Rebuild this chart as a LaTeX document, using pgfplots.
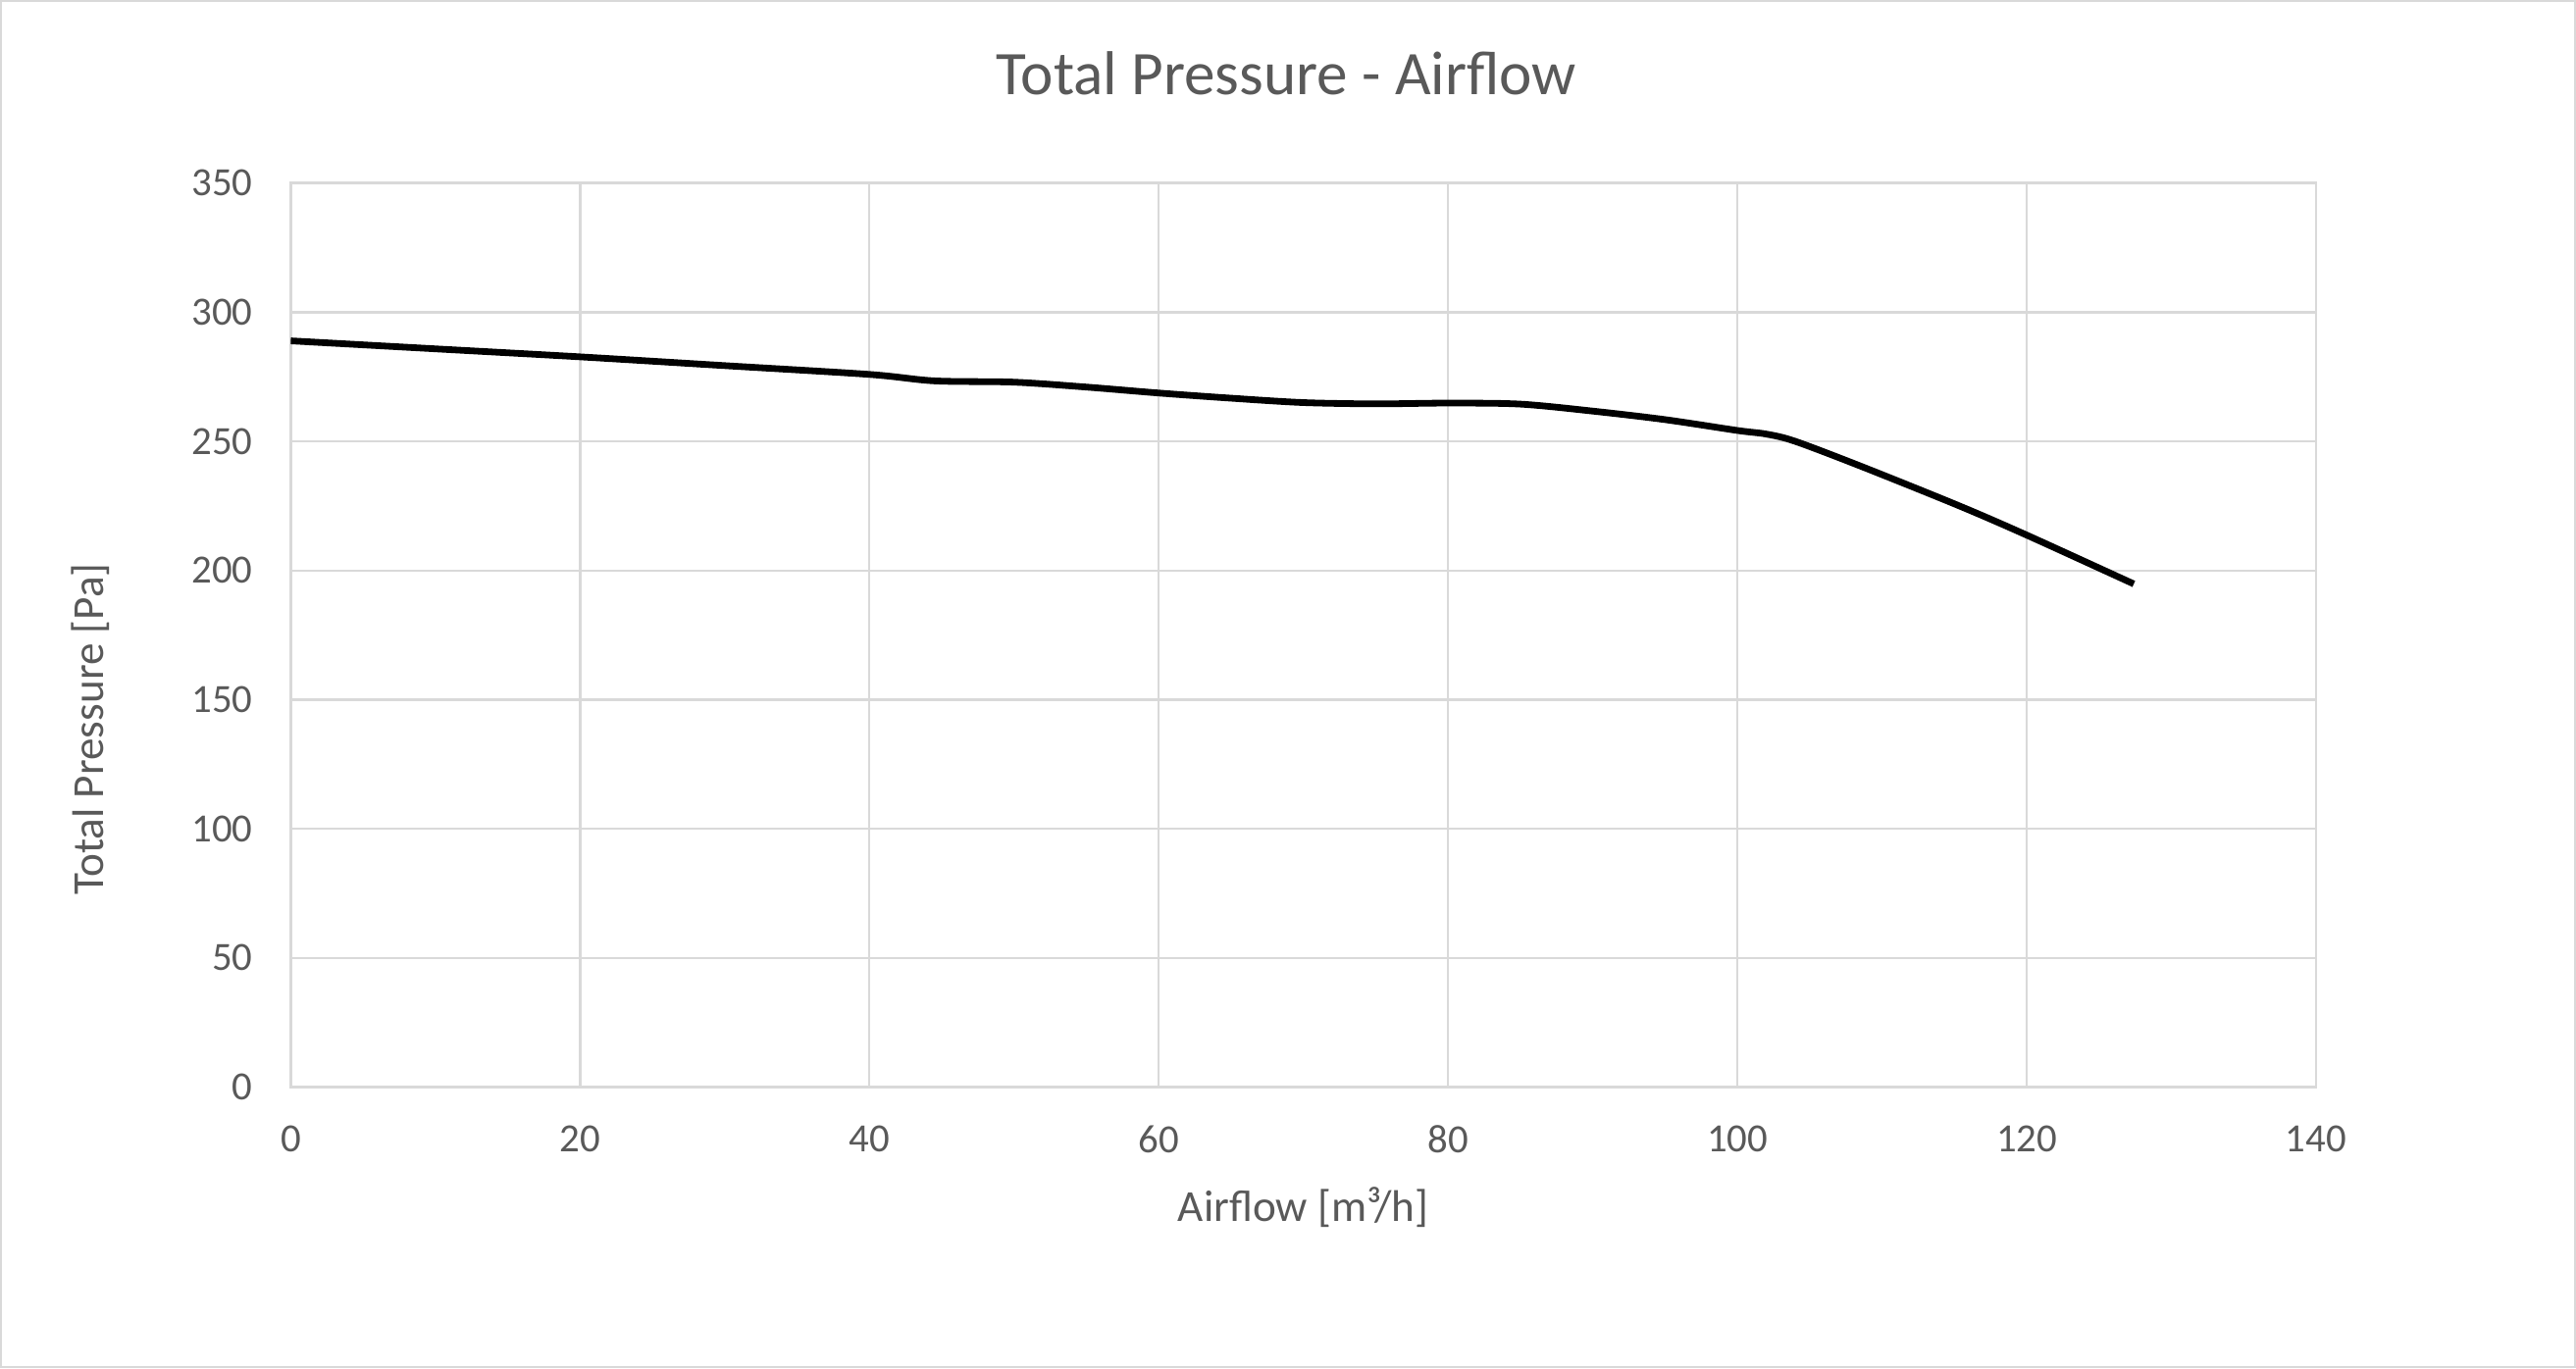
\documentclass[border=0pt]{standalone}
\usepackage{fontspec}
\setmainfont{Carlito}
\usepackage{pgfplots}
\pgfplotsset{compat=1.18}
\definecolor{txt}{HTML}{595959}
\definecolor{grd}{HTML}{D9D9D9}
\begin{document}
\begin{tikzpicture}
\path[use as bounding box] (0,0) rectangle (656.5pt,348.75pt);
\draw[grd, line width=0.6pt] (0.3pt,0.3pt) rectangle (656.2pt,348.45pt);
\begin{axis}[
  at={(74.1pt,71.6pt)}, anchor=south west,
  scale only axis, width=516.15pt, height=230.5pt,
  xmin=0, xmax=140, ymin=0, ymax=350,
  xtick={0,20,...,140}, ytick={0,50,...,350},
  grid=major, major grid style={grd, line width=0.6pt},
  axis line style={grd, line width=0.6pt},
  major tick length=0pt,
  tick label style={font=\fontsize{10.2}{12}\selectfont, text=txt},
  /pgf/number format/assume math mode=true,
  xticklabel style={yshift=-6.3pt},
  yticklabel style={xshift=-6.2pt},
  xlabel={Airflow [m³/h]},
  ylabel={Total Pressure [Pa]},
  label style={font=\fontsize{11.3}{13}\selectfont, text=txt},
  xlabel style={at={(axis description cs:0.5,-0.1328)}, anchor=center},
  ylabel style={at={(axis description cs:-0.0988,0.396)}, anchor=center},
]
\addplot[black, line width=1.7pt, smooth, tension=0.5] coordinates {
(0,288.9) (10,285.8) (20,282.7) (30,279.3) (40,275.9) (44.5,273.4) (50,272.9)
(55,271.0) (60,268.7) (65,266.7) (70,265.0) (75,264.5) (80,264.8) (85,264.4)
(90,261.7) (95,258.4) (100,254.2) (102,252.8) (104,250.0)
(108.7,240.0) (115.3,225.1) (120,213.7) (127.4,194.8)
};
\end{axis}
\node[anchor=base, text=txt, font=\fontsize{15.8}{19}\selectfont] at (327.8pt,324.5pt) {Total Pressure - Airflow};
\end{tikzpicture}
\end{document}
